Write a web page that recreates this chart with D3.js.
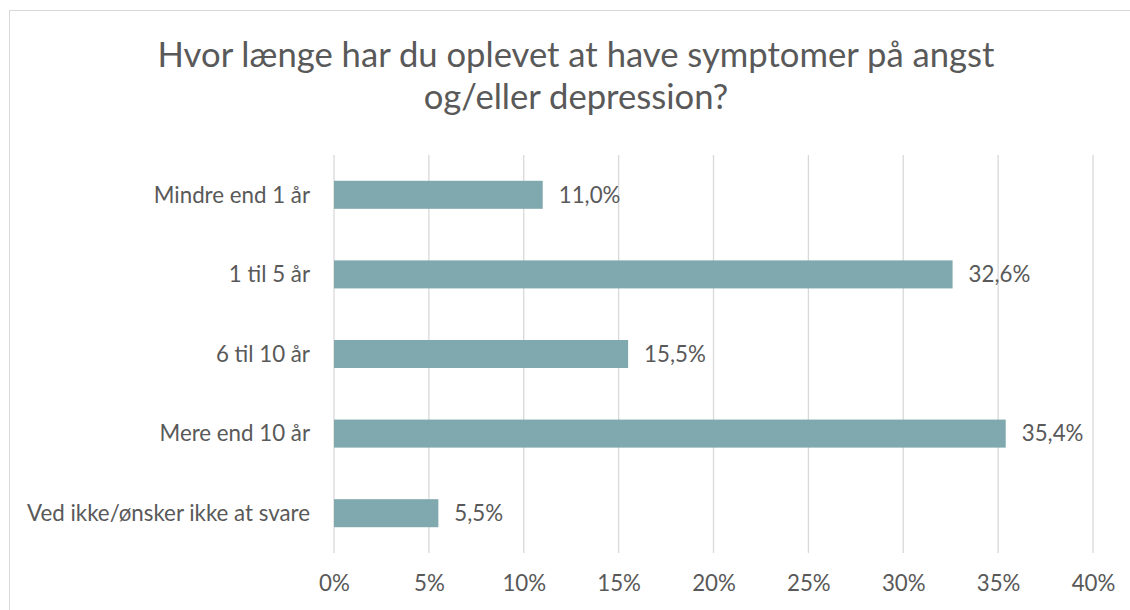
<!DOCTYPE html>
<html>
<head>
<meta charset="utf-8">
<script src="https://cdn.jsdelivr.net/npm/d3@7"></script>
<style>
  html, body { margin: 0; padding: 0; background: #fff; }
  svg { display: block; }
  text { font-family: Lato, "Open Sans", sans-serif; fill: #595959; }
</style>
</head>
<body>
<svg id="chart" width="1130" height="610"></svg>
<script>
const titleLines = ["Hvor længe har du oplevet at have symptomer på angst", "og/eller depression?"];
const categories = ["Mindre end 1 år", "1 til 5 år", "6 til 10 år", "Mere end 10 år", "Ved ikke/ønsker ikke at svare"];
const values = [0.110, 0.326, 0.155, 0.354, 0.055];
const valueLabels = ["11,0%", "32,6%", "15,5%", "35,4%", "5,5%"];
const tickValues = [0, 0.05, 0.10, 0.15, 0.20, 0.25, 0.30, 0.35, 0.40];
const tickLabels = ["0%", "5%", "10%", "15%", "20%", "25%", "30%", "35%", "40%"];

const svg = d3.select("#chart");

// chart border
svg.append("rect")
  .attr("x", 9.5).attr("y", 10.5)
  .attr("width", 1140).attr("height", 620)
  .attr("fill", "none").attr("stroke", "#d9d9d9").attr("stroke-width", 1);

const x = d3.scaleLinear().domain([0, 0.4]).range([334, 1093]);
const y = d3.scaleBand().domain(categories).range([155, 553]).paddingInner(0.648).paddingOuter(0.324);

// helper to fit font size to a target width
function fitSize(sel, target) {
  const w = sel.node().getComputedTextLength();
  const fs = parseFloat(sel.attr("font-size"));
  return fs * target / w;
}

// Title
const titleG = svg.append("g");
const t1 = titleG.append("text").attr("x", 576).attr("y", 67).attr("text-anchor", "middle")
  .attr("font-size", 30).text(titleLines[0]);
const titleSize = fitSize(t1, 837);
t1.attr("font-size", titleSize);
titleG.append("text").attr("x", 576).attr("y", 109).attr("text-anchor", "middle")
  .attr("font-size", titleSize).text(titleLines[1]);

// measure label font size
const probe = svg.append("text").attr("font-size", 18).text(categories[4]);
const labelSize = fitSize(probe, 283);
probe.remove();

// gridlines
const xAxis = d3.axisBottom(x).tickValues(tickValues).tickFormat((d, i) => tickLabels[i])
  .tickSize(0).tickPadding(0);
svg.append("g").selectAll("line").data(tickValues).join("line")
  .attr("x1", d => x(d)).attr("x2", d => x(d))
  .attr("y1", 155).attr("y2", 553)
  .attr("stroke", "#d9d9d9").attr("stroke-width", 1.3);

// bars
svg.append("g").selectAll("rect").data(values).join("rect")
  .attr("x", x(0))
  .attr("y", (d, i) => y(categories[i]))
  .attr("width", d => x(d) - x(0))
  .attr("height", y.bandwidth())
  .attr("fill", "#7fa9ae");

// x axis labels
const gx = svg.append("g").attr("transform", "translate(0,591)").call(xAxis);
gx.select(".domain").remove();
gx.selectAll("text").attr("font-size", labelSize).attr("fill", "#595959")
  .attr("dy", 0).style("font-family", "Lato, 'Open Sans', sans-serif");

// y axis labels
const yAxis = d3.axisLeft(y).tickSize(0).tickPadding(24);
const gy = svg.append("g").attr("transform", `translate(${x(0)},0)`).call(yAxis);
gy.select(".domain").remove();
gy.selectAll("text").attr("font-size", labelSize).attr("fill", "#595959")
  .attr("dy", "0.35em").style("font-family", "Lato, 'Open Sans', sans-serif");

// value labels
svg.append("g").selectAll("text").data(values).join("text")
  .attr("x", d => x(d) + 16)
  .attr("y", (d, i) => y(categories[i]) + y.bandwidth() / 2)
  .attr("dy", "0.35em")
  .attr("font-size", labelSize)
  .text((d, i) => valueLabels[i]);
</script>
</body>
</html>
